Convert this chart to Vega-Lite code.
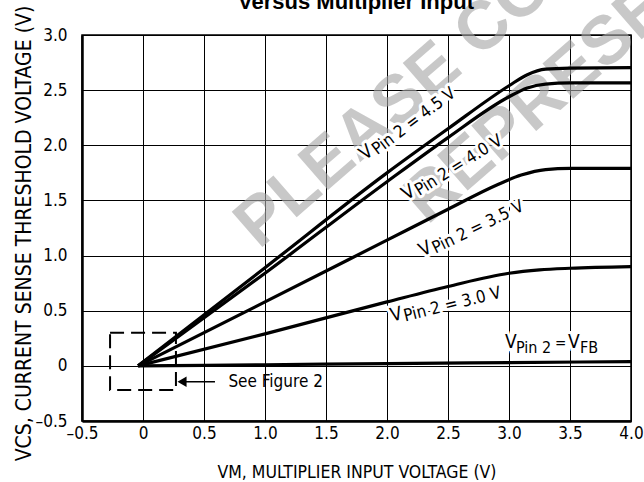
{
  "$schema": "https://vega.github.io/schema/vega-lite/v6.json",
  "autosize": "none",
  "width": 549,
  "height": 386,
  "padding": {"left": 82, "top": 35, "right": 13, "bottom": 61},
  "config": {
    "font": "Liberation Sans Narrow, DejaVu Sans Condensed, sans-serif",
    "view": {"stroke": "black", "strokeWidth": 1.5},
    "axis": {"grid": true, "gridColor": "black", "gridWidth": 1, "gridOpacity": 1, "domainColor": "black", "domainWidth": 2.5, "ticks": false, "labelColor": "black", "labelFontSize": 17, "labelFlush": false, "labelOverlap": false, "titleColor": "black", "titleFontWeight": "normal"}
  },
  "encoding": {
    "x": {"field": "x", "type": "quantitative", "scale": {"domain": [-0.5, 4.0], "nice": false, "zero": false},
      "axis": {"values": [-0.5, 0, 0.5, 1.0, 1.5, 2.0, 2.5, 3.0, 3.5, 4.0], "labelPadding": 4, "labelExpr": "datum.value < 0 ? '–' + format(-datum.value, '.1f') : (datum.value == 0 ? '0' : format(datum.value, '.1f'))", "title": "VM, MULTIPLIER INPUT VOLTAGE (V)", "titleFontSize": 17.5, "titlePadding": 22}},
    "y": {"field": "y", "type": "quantitative", "scale": {"domain": [-0.5, 3.0], "nice": false, "zero": false},
      "axis": {"values": [-0.5, 0, 0.5, 1.0, 1.5, 2.0, 2.5, 3.0], "labelPadding": 15, "labelExpr": "datum.value < 0 ? '–' + format(-datum.value, '.1f') : (datum.value == 0 ? '0' : format(datum.value, '.1f'))", "title": "VCS, CURRENT SENSE THRESHOLD VOLTAGE (V)", "titleFontSize": 21, "titleX": -48, "titleY": 198}}
  },
  "layer": [
    {
      "data": {"values": [{"x": 0.95, "y": 1.05, "t": "PLEASE CO"}, {"x": 2.33, "y": 1.27, "t": "REPRESE"}]},
      "mark": {"type": "text", "angle": -41, "align": "left", "baseline": "alphabetic", "fontSize": 68, "fontWeight": "bold", "font": "Liberation Sans, Arial, sans-serif", "fill": "#a8a8a8", "opacity": 0.62},
      "encoding": {"text": {"field": "t"}}
    },
    {
      "data": {"values": [
        {"s": "VFB", "x": -0.04, "y": 0}, {"s": "VFB", "x": 1.0, "y": 0.01}, {"s": "VFB", "x": 2.0, "y": 0.02}, {"s": "VFB", "x": 3.0, "y": 0.03}, {"s": "VFB", "x": 4.0, "y": 0.038},
        {"s": "3.0", "x": -0.04, "y": 0}, {"s": "3.0", "x": 1.0, "y": 0.29}, {"s": "3.0", "x": 2.0, "y": 0.58}, {"s": "3.0", "x": 2.5, "y": 0.72}, {"s": "3.0", "x": 3.0, "y": 0.84}, {"s": "3.0", "x": 3.25, "y": 0.87}, {"s": "3.0", "x": 3.5, "y": 0.885}, {"s": "3.0", "x": 4.0, "y": 0.9},
        {"s": "3.5", "x": -0.04, "y": 0}, {"s": "3.5", "x": 1.0, "y": 0.58}, {"s": "3.5", "x": 2.0, "y": 1.14}, {"s": "3.5", "x": 2.5, "y": 1.42}, {"s": "3.5", "x": 2.9, "y": 1.64}, {"s": "3.5", "x": 3.1, "y": 1.73}, {"s": "3.5", "x": 3.3, "y": 1.78}, {"s": "3.5", "x": 3.5, "y": 1.79}, {"s": "3.5", "x": 4.0, "y": 1.79},
        {"s": "4.0", "x": -0.04, "y": 0}, {"s": "4.0", "x": 1.0, "y": 0.84}, {"s": "4.0", "x": 2.0, "y": 1.67}, {"s": "4.0", "x": 2.5, "y": 2.07}, {"s": "4.0", "x": 3.0, "y": 2.44}, {"s": "4.0", "x": 3.15, "y": 2.52}, {"s": "4.0", "x": 3.3, "y": 2.555}, {"s": "4.0", "x": 3.5, "y": 2.565}, {"s": "4.0", "x": 4.0, "y": 2.565},
        {"s": "4.5", "x": -0.04, "y": 0}, {"s": "4.5", "x": 1.0, "y": 0.89}, {"s": "4.5", "x": 2.0, "y": 1.75}, {"s": "4.5", "x": 2.5, "y": 2.15}, {"s": "4.5", "x": 3.0, "y": 2.54}, {"s": "4.5", "x": 3.15, "y": 2.64}, {"s": "4.5", "x": 3.3, "y": 2.69}, {"s": "4.5", "x": 3.5, "y": 2.7}, {"s": "4.5", "x": 4.0, "y": 2.705}
      ]},
      "mark": {"type": "line", "color": "black", "strokeWidth": 3.2, "interpolate": "monotone"},
      "encoding": {"detail": {"field": "s"}}
    },
    {
      "data": {"values": [{"x": 1.746, "y": 3.235, "t": "Versus Multiplier Input"}]},
      "mark": {"type": "text", "align": "center", "baseline": "alphabetic", "fontSize": 22, "fontWeight": "bold", "font": "Liberation Sans, Arial, sans-serif", "fill": "black"},
      "encoding": {"text": {"field": "t"}}
    },
    {
      "data": {"values": [{"x": -0.27, "x2": 0.27, "y": -0.22, "y2": 0.3}]},
      "mark": {"type": "rect", "fill": null, "stroke": "black", "strokeWidth": 2, "strokeDash": [14, 7]},
      "encoding": {"x2": {"field": "x2"}, "y2": {"field": "y2"}}
    },
    {
      "data": {"values": [{"x": 0.59, "x2": 0.3, "y": -0.145}]},
      "mark": {"type": "rule", "color": "black", "strokeWidth": 1.5},
      "encoding": {"x2": {"field": "x2"}}
    },
    {
      "data": {"values": [{"x": 0.32, "y": -0.145}]},
      "mark": {"type": "point", "shape": "triangle-left", "filled": true, "color": "black", "size": 110, "opacity": 1},
      "encoding": {}
    },
    {
      "data": {"values": [{"x": 0.7, "y": -0.145, "t": "See Figure 2"}]},
      "mark": {"type": "text", "align": "left", "baseline": "middle", "fontSize": 17, "fill": "black"},
      "encoding": {"text": {"field": "t"}}
    },
    {
      "data": {"values": [{"x": 1.82, "y": 1.86, "v": "V", "r": "Pin 2 = 4.5 V"}]},
      "layer": [
        {"mark": {"type": "text", "angle": -37, "align": "left", "baseline": "alphabetic", "fontSize": 19, "fill": "white", "stroke": "white", "strokeWidth": 6, "strokeJoin": "round"}, "encoding": {"text": {"field": "v"}}},
        {"mark": {"type": "text", "angle": -37, "align": "left", "baseline": "alphabetic", "fontSize": 17, "dx": 13, "dy": 3, "fill": "white", "stroke": "white", "strokeWidth": 6, "strokeJoin": "round"}, "encoding": {"text": {"field": "r"}}},
        {"mark": {"type": "text", "angle": -37, "align": "left", "baseline": "alphabetic", "fontSize": 19, "fill": "black"}, "encoding": {"text": {"field": "v"}}},
        {"mark": {"type": "text", "angle": -37, "align": "left", "baseline": "alphabetic", "fontSize": 17, "dx": 13, "dy": 3, "fill": "black"}, "encoding": {"text": {"field": "r"}}}
      ]
    },
    {
      "data": {"values": [{"x": 2.16, "y": 1.5, "v": "V", "r": "Pin 2 = 4.0 V"}]},
      "layer": [
        {"mark": {"type": "text", "angle": -32, "align": "left", "baseline": "alphabetic", "fontSize": 19, "fill": "white", "stroke": "white", "strokeWidth": 6, "strokeJoin": "round"}, "encoding": {"text": {"field": "v"}}},
        {"mark": {"type": "text", "angle": -32, "align": "left", "baseline": "alphabetic", "fontSize": 17, "dx": 13, "dy": 3, "fill": "white", "stroke": "white", "strokeWidth": 6, "strokeJoin": "round"}, "encoding": {"text": {"field": "r"}}},
        {"mark": {"type": "text", "angle": -32, "align": "left", "baseline": "alphabetic", "fontSize": 19, "fill": "black"}, "encoding": {"text": {"field": "v"}}},
        {"mark": {"type": "text", "angle": -32, "align": "left", "baseline": "alphabetic", "fontSize": 17, "dx": 13, "dy": 3, "fill": "black"}, "encoding": {"text": {"field": "r"}}}
      ]
    },
    {
      "data": {"values": [{"x": 2.29, "y": 0.99, "v": "V", "r": "Pin 2 = 3.5 V"}]},
      "layer": [
        {"mark": {"type": "text", "angle": -26, "align": "left", "baseline": "alphabetic", "fontSize": 19, "fill": "white", "stroke": "white", "strokeWidth": 6, "strokeJoin": "round"}, "encoding": {"text": {"field": "v"}}},
        {"mark": {"type": "text", "angle": -26, "align": "left", "baseline": "alphabetic", "fontSize": 17, "dx": 13, "dy": 3, "fill": "white", "stroke": "white", "strokeWidth": 6, "strokeJoin": "round"}, "encoding": {"text": {"field": "r"}}},
        {"mark": {"type": "text", "angle": -26, "align": "left", "baseline": "alphabetic", "fontSize": 19, "fill": "black"}, "encoding": {"text": {"field": "v"}}},
        {"mark": {"type": "text", "angle": -26, "align": "left", "baseline": "alphabetic", "fontSize": 17, "dx": 13, "dy": 3, "fill": "black"}, "encoding": {"text": {"field": "r"}}}
      ]
    },
    {
      "data": {"values": [{"x": 2.04, "y": 0.4, "v": "V", "r": "Pin 2 = 3.0 V"}]},
      "layer": [
        {"mark": {"type": "text", "angle": -14, "align": "left", "baseline": "alphabetic", "fontSize": 19, "fill": "white", "stroke": "white", "strokeWidth": 6, "strokeJoin": "round"}, "encoding": {"text": {"field": "v"}}},
        {"mark": {"type": "text", "angle": -14, "align": "left", "baseline": "alphabetic", "fontSize": 17, "dx": 13, "dy": 3, "fill": "white", "stroke": "white", "strokeWidth": 6, "strokeJoin": "round"}, "encoding": {"text": {"field": "r"}}},
        {"mark": {"type": "text", "angle": -14, "align": "left", "baseline": "alphabetic", "fontSize": 19, "fill": "black"}, "encoding": {"text": {"field": "v"}}},
        {"mark": {"type": "text", "angle": -14, "align": "left", "baseline": "alphabetic", "fontSize": 17, "dx": 13, "dy": 3, "fill": "black"}, "encoding": {"text": {"field": "r"}}}
      ]
    },
    {
      "data": {"values": [{"x": 2.967, "y": 0.163, "v": "V", "p": "Pin 2", "e": "=", "fb": "FB"}]},
      "layer": [
        {"mark": {"type": "text", "align": "left", "baseline": "alphabetic", "fontSize": 19, "fill": "white", "stroke": "white", "strokeWidth": 6}, "encoding": {"text": {"field": "v"}}},
        {"mark": {"type": "text", "align": "left", "baseline": "alphabetic", "fontSize": 16, "dx": 11, "dy": 5, "fill": "white", "stroke": "white", "strokeWidth": 6}, "encoding": {"text": {"field": "p"}}},
        {"mark": {"type": "text", "align": "left", "baseline": "alphabetic", "fontSize": 15, "dx": 50, "fill": "white", "stroke": "white", "strokeWidth": 6}, "encoding": {"text": {"field": "e"}}},
        {"mark": {"type": "text", "align": "left", "baseline": "alphabetic", "fontSize": 19, "dx": 63, "fill": "white", "stroke": "white", "strokeWidth": 6}, "encoding": {"text": {"field": "v"}}},
        {"mark": {"type": "text", "align": "left", "baseline": "alphabetic", "fontSize": 16, "dx": 75, "dy": 5, "fill": "white", "stroke": "white", "strokeWidth": 6}, "encoding": {"text": {"field": "fb"}}},
        {"mark": {"type": "text", "align": "left", "baseline": "alphabetic", "fontSize": 19, "fill": "black"}, "encoding": {"text": {"field": "v"}}},
        {"mark": {"type": "text", "align": "left", "baseline": "alphabetic", "fontSize": 16, "dx": 11, "dy": 5, "fill": "black"}, "encoding": {"text": {"field": "p"}}},
        {"mark": {"type": "text", "align": "left", "baseline": "alphabetic", "fontSize": 15, "dx": 50, "fill": "black"}, "encoding": {"text": {"field": "e"}}},
        {"mark": {"type": "text", "align": "left", "baseline": "alphabetic", "fontSize": 19, "dx": 63, "fill": "black"}, "encoding": {"text": {"field": "v"}}},
        {"mark": {"type": "text", "align": "left", "baseline": "alphabetic", "fontSize": 16, "dx": 75, "dy": 5, "fill": "black"}, "encoding": {"text": {"field": "fb"}}}
      ]
    }
  ]
}
